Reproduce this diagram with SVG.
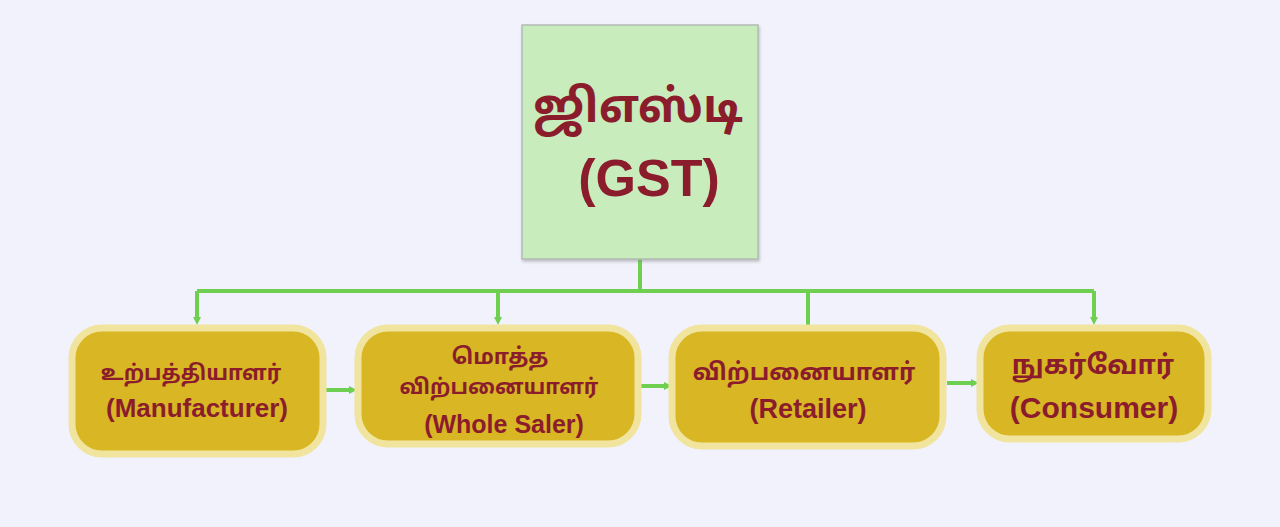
<svg xmlns="http://www.w3.org/2000/svg" width="1280" height="527" viewBox="0 0 1280 527">
<defs>
<style>
.t{font-family:"Noto Sans Tamil","Noto Sans","DejaVu Sans",sans-serif;font-weight:bold;fill:#8a1c2c;text-anchor:middle}
.e{font-family:"Liberation Sans",Arial,sans-serif;font-weight:bold;fill:#8a1c2c;text-anchor:middle}
.box{fill:#d8b624;stroke:#f0e49e;stroke-width:7}
.ln{fill:none;stroke:#6fcf50;stroke-width:4}
</style>
<marker id="ah" markerWidth="8" markerHeight="8" refX="4" refY="4" orient="auto" markerUnits="userSpaceOnUse">
<path d="M0,0 L8,4 L0,8 z" fill="#6fcf50"/>
</marker>
<filter id="sh" x="-5%" y="-5%" width="115%" height="115%">
<feDropShadow dx="1" dy="2" stdDeviation="1.5" flood-color="#888" flood-opacity="0.5"/>
</filter>
</defs>
<rect width="1280" height="527" fill="#f2f2fc"/>
<g id="connectors">
<path class="ln" d="M640,259 V291"/>
<path class="ln" d="M197,291 H1094"/>
<path class="ln" d="M197,291 V321" marker-end="url(#ah)"/>
<path class="ln" d="M498,291 V321" marker-end="url(#ah)"/>
<path class="ln" d="M808,291 V326"/>
<path class="ln" d="M1094,291 V321" marker-end="url(#ah)"/>
<path class="ln" d="M325,390 H353" marker-end="url(#ah)"/>
<path class="ln" d="M641,386 H668" marker-end="url(#ah)"/>
<path class="ln" d="M947,383 H975" marker-end="url(#ah)"/>
</g>
<g id="gst">
<rect x="522" y="25" width="236" height="234" fill="#c8ecbc" stroke="#b4bcb4" stroke-width="1.5" filter="url(#sh)"/>
<text class="t" x="638" y="122" font-size="46">ஜிஎஸ்டி</text>
<text class="e" x="649" y="196" font-size="52">(GST)</text>
</g>
<g id="manufacturer">
<rect class="box" x="72" y="328" width="251" height="126" rx="30"/>
<text class="t" x="191" y="380" font-size="21">உற்பத்தியாளர்</text>
<text class="e" x="197" y="417" font-size="26">(Manufacturer)</text>
</g>
<g id="wholesaler">
<rect class="box" x="358" y="328" width="280" height="116" rx="30"/>
<text class="t" x="500" y="364" font-size="22">மொத்த</text>
<text class="t" x="499" y="394" font-size="21">விற்பனையாளர்</text>
<text class="e" x="504" y="433" font-size="25">(Whole Saler)</text>
</g>
<g id="retailer">
<rect class="box" x="672" y="328" width="271" height="118" rx="30"/>
<text class="t" x="804" y="380" font-size="23.5">விற்பனையாளர்</text>
<text class="e" x="808" y="418" font-size="27">(Retailer)</text>
</g>
<g id="consumer">
<rect class="box" x="980" y="328" width="228" height="111" rx="30"/>
<text class="t" x="1093" y="374" font-size="26.5">நுகர்வோர்</text>
<text class="e" x="1094" y="418" font-size="30">(Consumer)</text>
</g>
</svg>
